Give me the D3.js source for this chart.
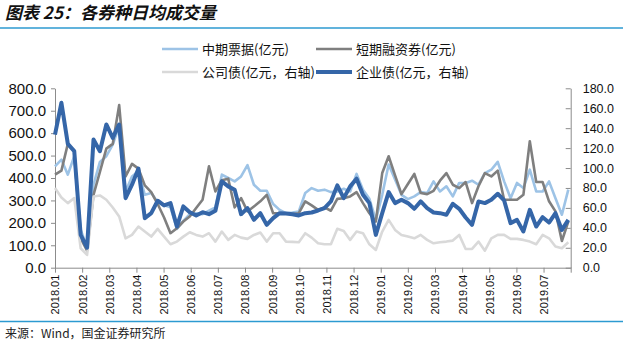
<!DOCTYPE html>
<html><head><meta charset="utf-8">
<script src="https://cdn.jsdelivr.net/npm/d3@7"></script>
<style>
html,body{margin:0;padding:0;background:#fff;}
svg{display:block;}
</style></head>
<body><svg id="c" width="623" height="343"></svg>
<script>
// Month tick labels (every 4 weekly points)
const monthLabels = ["2018.01","2018.02","2018.03","2018.04","2018.05","2018.06","2018.07","2018.08","2018.09","2018.10","2018.11","2018.12","2019.01","2019.02","2019.03","2019.04","2019.05","2019.06","2019.07"];
const leftTicks = [0,100,200,300,400,500,600,700,800];
const rightTicks = [0,20,40,60,80,100,120,140,160,180];

// 中期票据(亿元) - left axis
const mtn = [452,482,415,497,169,90,370,472,497,549,631,340,407,430,325,333,293,278,269,173,209,239,243,239,254,269,415,400,385,407,457,370,343,343,284,258,243,246,251,333,
 355,343,348,337,340,352,340,418,348,307,213,325,460,393,325,306,318,337,333,385,340,363,318,378,378,388,370,422,437,472,385,310,378,355,437,340,340,385,310,236,348];
// 短期融资券(亿元) - left axis
const cp = [415,433,552,519,131,76,325,427,531,552,725,407,463,442,367,337,284,224,154,176,206,228,266,303,452,340,390,397,269,310,251,273,296,325,243,243,243,239,243,296,
 278,258,269,254,307,310,318,337,288,243,206,422,497,412,328,373,418,333,328,343,388,422,370,355,382,288,363,422,407,433,303,303,303,325,564,382,382,296,251,119,206];
// 公司债(亿元，右轴)
const corp = [80,70.5,64.8,69.8,19.5,12.8,71.5,72.5,68.2,60.4,51.4,29.5,32.9,41.3,36.3,31.2,39.0,31.2,23.5,26.2,31.2,35.6,32.9,31.2,34.6,26.2,36.3,27.9,32.9,30.2,28.9,32.9,35.3,26.2,34.6,34.6,26.2,25.9,25.5,34.6,
 30.2,24.5,23.5,23.5,39.0,36.9,27.9,36.3,34.6,23.5,17.8,36.3,48.0,37.9,32.9,31.2,29.5,32.9,27.9,24.5,25.5,26.2,27.2,32.9,18.8,18.8,26.2,17.1,29.5,32.9,32.9,28.9,28.9,27.9,26.2,23.5,32.9,29.5,21.2,19.5,25.5];
// 企业债(亿元，右轴)
const ent = [133.6,165.5,124.2,116.9,32.9,20.1,128.6,116.9,143.7,130.3,143.7,69.8,83.3,99.4,49.7,54.7,67.2,62.5,64.8,41.3,61.5,55.7,52.4,55.7,53.7,57.1,86.6,81.6,78.2,53.7,59.8,48.0,54.7,43.0,49.7,54.7,54.4,53.7,52.4,54.7,
 55.4,57.4,59.8,66.5,82.6,69.8,81.6,89.3,73.2,64.8,32.9,54.7,75.9,64.8,68.2,64.8,59.1,66.5,59.8,55.4,54.7,53.1,64.1,59.1,50.4,43.0,66.5,64.8,68.2,74.2,67.5,44.7,48.0,36.3,58.1,41.3,50.7,45.3,54.7,37.9,48.0];

const seriesNames = ["中期票据(亿元)","短期融资券(亿元)","公司债(亿元，右轴)","企业债(亿元，右轴)"];
const colors = ["#9DC3E6","#7F7F7F","#D9D9D9","#3566A8"];

const svg = d3.select("#c");
const L = 55, R = 570.7, T = 88.3, B = 267.7;

// title
svg.append("text").attr("x",5).attr("y",19)
  .attr("font-family","'Noto Sans CJK SC'").attr("font-size",17).attr("font-weight","bold")
  .attr("font-style","italic").attr("fill","#111").text("图表 25：各券种日均成交量");
svg.append("line").attr("x1",0).attr("x2",623).attr("y1",28).attr("y2",28).attr("stroke","#2C9AD1").attr("stroke-width",1.5);
svg.append("line").attr("x1",0).attr("x2",623).attr("y1",321.5).attr("y2",321.5).attr("stroke","#2C9AD1").attr("stroke-width",1.5);
svg.append("text").attr("x",5).attr("y",338)
  .attr("font-family","'Noto Sans CJK SC'").attr("font-size",12).attr("fill","#222").text("来源：Wind，国金证券研究所");

const xMonth = d3.scaleLinear().domain([0,19]).range([L,R]);
const xIdx = d3.scaleLinear().domain([0,80]).range([L,568.3]);
const yL = d3.scaleLinear().domain([0,800]).range([B,T]);
const yR = d3.scaleLinear().domain([0,180]).range([B,T]);

const axisColor = "#8C8C8C";
function styleAxis(g){
  g.selectAll("path,line").attr("stroke",axisColor).attr("stroke-width",1);
  g.selectAll("text").attr("fill","#111").attr("font-family","'Liberation Sans',Arial,sans-serif");
}

const gL = svg.append("g").attr("transform",`translate(${L},0)`)
  .call(d3.axisLeft(yL).tickValues(leftTicks).tickSize(4).tickSizeOuter(0).tickPadding(5).tickFormat(d3.format(".1f")));
styleAxis(gL); gL.selectAll("text").attr("font-size",15);

const gR = svg.append("g").attr("transform",`translate(${R},0)`)
  .call(d3.axisRight(yR).tickValues(rightTicks).tickSize(-5).tickSizeOuter(0).tickPadding(12).tickFormat(d3.format(".1f")));
styleAxis(gR); gR.selectAll("text").attr("font-size",12.5);

const gB = svg.append("g").attr("transform",`translate(0,${B})`)
  .call(d3.axisBottom(xMonth).tickValues(d3.range(0,20)).tickSize(5).tickSizeOuter(0).tickFormat(i => monthLabels[i] || ""));
styleAxis(gB);
gB.selectAll("text").attr("font-size",11).attr("text-anchor","end")
  .attr("transform","rotate(-90)").attr("x",-7).attr("y",0).attr("dy","0.36em");

// lines
const data = [
  {vals: mtn, y: yL, w: 2.6},
  {vals: cp, y: yL, w: 2.6},
  {vals: corp, y: yR, w: 2.6},
  {vals: ent, y: yR, w: 4}
];
data.forEach((s,k)=>{
  const line = d3.line().x((d,i)=>xIdx(i)).y(d=>s.y(d));
  svg.append("path").datum(s.vals).attr("d",line).attr("fill","none")
    .attr("stroke",colors[k]).attr("stroke-width",s.w).attr("stroke-linejoin","round");
});

// legend
const legPos = [[162,49],[316,49],[162,72],[316,72]];
seriesNames.forEach((n,k)=>{
  const [x,y] = legPos[k];
  svg.append("line").attr("x1",x).attr("x2",x+36).attr("y1",y).attr("y2",y)
    .attr("stroke",colors[k]).attr("stroke-width",k===3?4:2.6);
  svg.append("text").attr("x",x+40).attr("y",y+4.5)
    .attr("font-family","'Noto Sans CJK SC'").attr("font-size",13).attr("fill","#111").text(n);
});
</script>
</body></html>
